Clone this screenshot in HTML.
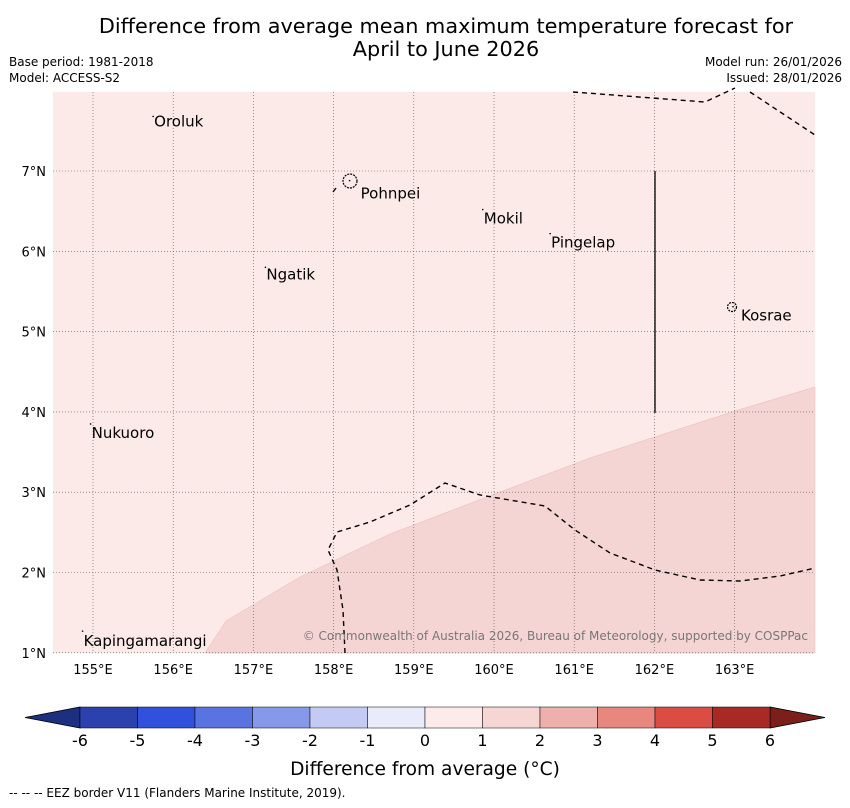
<!DOCTYPE html>
<html><head><meta charset="utf-8"><style>
body{margin:0;background:#fff;width:850px;height:804px;overflow:hidden;font-family:"DejaVu Sans","Liberation Sans",sans-serif}
</style></head><body>
<svg width="850" height="804" xmlns="http://www.w3.org/2000/svg" font-family="DejaVu Sans, Liberation Sans, sans-serif">
<text x="446" y="33" font-size="20.8" text-anchor="middle">Difference from average mean maximum temperature forecast for</text>
<text x="446" y="56" font-size="20.8" text-anchor="middle">April to June 2026</text>
<text x="9" y="66" font-size="12">Base period: 1981-2018</text>
<text x="9" y="82" font-size="12">Model: ACCESS-S2</text>
<text x="842" y="66" font-size="12" text-anchor="end">Model run: 26/01/2026</text>
<text x="842" y="82" font-size="12" text-anchor="end">Issued: 28/01/2026</text>
<g id="map"></g>
<g id="cbar"></g>
<text x="425" y="775" font-size="18.6" text-anchor="middle">Difference from average (°C)</text>
<text x="9" y="797" font-size="12">--  --  -- EEZ border V11 (Flanders Marine Institute, 2019).</text>
</svg>
<script>
const lonTicks=[155,156,157,158,159,160,161,162,163];
const latTicks=[1,2,3,4,5,6,7];
const places=["Oroluk","Pohnpei","Mokil","Pingelap","Ngatik","Kosrae","Nukuoro","Kapingamarangi"];
const placeLon=[155.75,158.2,159.86,160.7,157.15,162.98,154.97,154.87];
const placeLat=[7.68,6.88,6.52,6.22,5.8,5.31,3.85,1.27];
const labelDx=[1,11,1,1,1,8,1,1];
const labelDy=[10,18,14,14,12,14,14,15];
const cbLevels=[-6,-5,-4,-3,-2,-1,0,1,2,3,4,5,6];
const cbColors=["#2a41ae","#3051dd","#5a73e2","#8598ea","#c3caf3","#e9ebfa","#fcebea","#f6d6d3","#eeb0aa","#e8877e","#db4c42","#a92a24"];
const NS="http://www.w3.org/2000/svg";
const X0=53,X1=815,Y0=92,Y1=653;
const lonX=l=>93+(l-155)*80.2;
const latY=a=>171+(7-a)*80.3;
function el(t,a,p){const e=document.createElementNS(NS,t);for(const k in a)e.setAttribute(k,a[k]);p.appendChild(e);return e;}
const map=document.getElementById('map');
const bg=el('rect',{x:X0,y:Y0,width:X1-X0,height:Y1-Y0,fill:'#fbeae8'},map);


const anom=el('polygon',{points:"205,653 226,621 300,577 390,534 500,492 590,458 735,411 815,387 815,653",fill:'#f5d5d3',stroke:'#e8b8b4','stroke-width':0.5},map);


lonTicks.forEach(l=>{const x=lonX(l);
 const g=el('line',{x1:x,x2:x,y1:Y0,y2:Y1,stroke:'#555','stroke-width':0.6,'stroke-dasharray':'1,2'},map);
 
 
 const t=el('text',{x:x,y:674,'font-size':13,'text-anchor':'middle'},map);t.textContent=l+'°E';
 
 });
latTicks.forEach(a=>{const y=latY(a);
 const g=el('line',{x1:X0,x2:X1,y1:y,y2:y,stroke:'#555','stroke-width':0.6,'stroke-dasharray':'1,2'},map);
 
 
 const t=el('text',{x:46,y:y+5,'font-size':13,'text-anchor':'end'},map);t.textContent=a+'°N';
 
 });
const eez=["573,92 705,102 735,88","750,92 815,135","345,653 343,610 337,570 328,550 337,532 370,522 410,505 445,483 480,495 545,506 575,530 610,553 655,570 700,580 740,581 780,576 815,568","333,192 336,188"];
eez.forEach(p=>{const e=el('polyline',{points:p,fill:'none',stroke:'#000','stroke-width':1.4,'stroke-dasharray':'5,4'},map);
 
 });
const vl=el('line',{x1:655,x2:655,y1:171,y2:413,stroke:'#222','stroke-width':1.5},map);


[[350,181,7],[732,307,4.5]].forEach(([cx,cy,r])=>{const c=el('circle',{cx:cx,cy:cy,r:r,fill:'none',stroke:'#000','stroke-width':1.2,'stroke-dasharray':'2,1'},map);
 
 });
places.forEach((n,i)=>{const x=lonX(placeLon[i]),y=latY(placeLat[i]);
 const d=el('circle',{cx:x,cy:y,r:0.8,fill:'#000'},map);
 
 
 const t=el('text',{x:x+labelDx[i],y:y+labelDy[i],'font-size':15},map);t.textContent=n;
 
 });
const cr=el('text',{x:808,y:640,'font-size':12,'text-anchor':'end',fill:'#777'},map);cr.textContent='© Commonwealth of Australia 2026, Bureau of Meteorology, supported by COSPPac';


const cb=document.getElementById('cbar');
const cx=v=>80+(v+6)*57.5, CY0=707, CY1=728;
const lt=el('polygon',{points:`25,717.5 ${cx(-6)},${CY0} ${cx(-6)},${CY1}`,fill:'#1c2f80',stroke:'#000','stroke-width':0.8},cb);


const rt=el('polygon',{points:`825,717.5 ${cx(6)},${CY0} ${cx(6)},${CY1}`,fill:'#7a1f1a',stroke:'#000','stroke-width':0.8},cb);


cbColors.forEach((c,i)=>{const r=el('rect',{x:cx(cbLevels[i]),y:CY0,width:cx(cbLevels[i+1])-cx(cbLevels[i]),height:CY1-CY0,fill:c,stroke:'#000','stroke-width':0.5},cb);
 
 });
cbLevels.forEach(v=>{const t=el('text',{x:cx(v),y:746,'font-size':16,'text-anchor':'middle'},cb);t.textContent=v;
 
 });
</script>
</body></html>
